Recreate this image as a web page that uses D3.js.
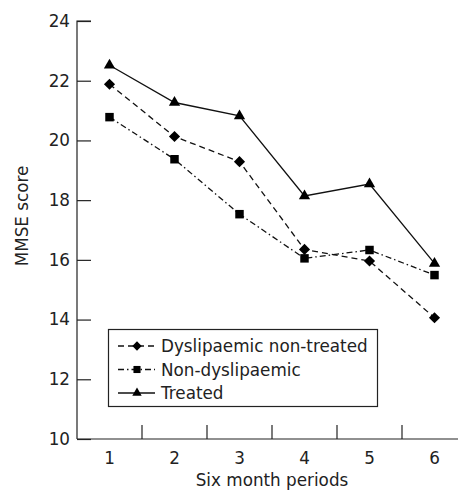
<!DOCTYPE html>
<html><head><meta charset="utf-8">
<script src="https://cdn.jsdelivr.net/npm/d3@7"></script>
<style>body{margin:0;background:#fff}svg{display:block}text{font-family:"DejaVu Sans",sans-serif;fill:#222}</style>
</head><body><svg id="c" width="458" height="491"></svg>
<script>
const periods = [1,2,3,4,5,6];
const dyslipNonTreated = [21.88,20.13,19.29,16.35,15.96,14.06];
const nonDyslip = [20.78,19.37,17.53,16.05,16.33,15.49];
const treated = [22.52,21.27,20.82,18.14,18.54,15.88];
const yTicks = [10,12,14,16,18,20,22,24];
const seriesNames = ["Dyslipaemic non-treated","Non-dyslipaemic","Treated"];

const svg = d3.select("#c");
const x = d3.scaleBand().domain(periods).range([77,467]).padding(0);
const y = d3.scaleLinear().domain([10,24]).range([439,21]);
const fs = 16.8;
const ff = "DejaVu Sans";

// y axis
const ya = svg.append("g").attr("transform","translate(77,0)")
  .call(d3.axisRight(y).tickValues(yTicks).tickSize(14).tickFormat(d3.format("d")));
ya.select(".domain").attr("d","M14,21H0V439");
ya.selectAll(".tick text").attr("x",-7).attr("text-anchor","end").attr("font-size",fs).attr("font-family",ff).attr("fill","#222");
ya.selectAll("line,path").attr("stroke","#222").attr("stroke-width",1.2);

// x axis
const xa = svg.append("g").attr("transform","translate(0,439)")
  .call(d3.axisBottom(x).tickSize(0).tickFormat(d3.format("d")));
xa.select(".domain").attr("d","M77,0H458");
xa.selectAll(".tick text").attr("y",25).attr("dy",0).attr("font-size",fs).attr("font-family",ff).attr("fill","#222");
xa.selectAll("path").attr("stroke","#222").attr("stroke-width",1.2);
svg.append("g").selectAll("line").data(periods.slice(1)).join("line")
  .attr("x1",d=>x(d)).attr("x2",d=>x(d)).attr("y1",439).attr("y2",425)
  .attr("stroke","#222").attr("stroke-width",1.2);

svg.append("text").attr("x",272).attr("y",486).attr("text-anchor","middle").attr("font-size",fs).text("Six month periods");
svg.append("text").attr("transform","translate(28,216) rotate(-90)").attr("text-anchor","middle").attr("font-size",fs).text("MMSE score");

const cx = d => x(d)+x.bandwidth()/2;
const series = [
  {name:seriesNames[0], vals:dyslipNonTreated, dash:"6,4", sym:d3.symbolSquare, size:62, rot:45},
  {name:seriesNames[1], vals:nonDyslip, dash:"6,3,1.5,3", sym:d3.symbolSquare, size:72, rot:0},
  {name:seriesNames[2], vals:treated, dash:null, sym:d3.symbolTriangle, size:55, rot:0}
];
const line = d3.line().x((d,i)=>cx(periods[i])).y(d=>y(d));
series.forEach(s=>{
  svg.append("path").attr("d",line(s.vals)).attr("fill","none").attr("stroke","#111")
    .attr("stroke-width",1.3).attr("stroke-dasharray",s.dash);
  svg.append("g").selectAll("path").data(s.vals).join("path")
    .attr("transform",(d,i)=>`translate(${cx(periods[i])},${y(d)}) rotate(${s.rot})`)
    .attr("d",d3.symbol(s.sym,s.size)).attr("fill","#000");
});

// legend
const lg = svg.append("g");
lg.append("rect").attr("x",108.5).attr("y",329.5).attr("width",269).attr("height",77).attr("fill","#fff").attr("stroke","#222").attr("stroke-width",1.2);
series.forEach((s,i)=>{
  const yy = 346 + i*23.5;
  lg.append("line").attr("x1",118).attr("x2",155).attr("y1",yy).attr("y2",yy).attr("stroke","#111").attr("stroke-width",1.3).attr("stroke-dasharray",s.dash);
  lg.append("path").attr("transform",`translate(137,${yy}) rotate(${s.rot})`).attr("d",d3.symbol(s.sym,s.size*0.7)).attr("fill","#000");
  lg.append("text").attr("x",161).attr("y",yy).attr("dy","0.36em").attr("font-size",fs).text(s.name);
});
</script></body></html>
